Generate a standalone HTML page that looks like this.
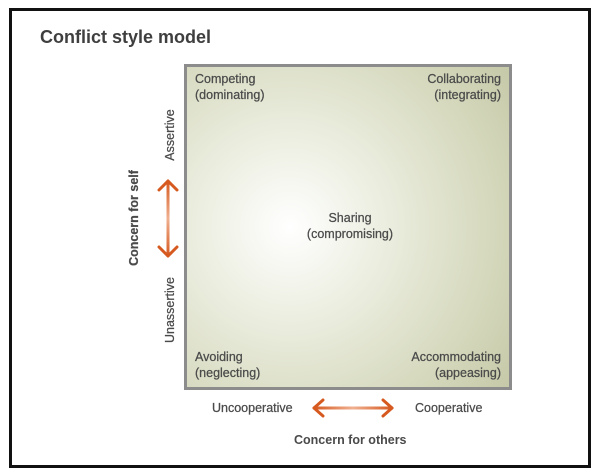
<!DOCTYPE html>
<html><head><style>
body{margin:0;width:600px;height:475px;background:#fff;position:relative;font-family:"Liberation Sans",sans-serif;color:#4a4a4a;overflow:hidden}
.frame{position:absolute;left:9px;top:8px;width:576px;height:454px;border:3px solid #111}
.t{position:absolute;font-size:12.5px;line-height:16px;-webkit-text-stroke:0.25px #4a4a4a}
.b{font-weight:bold;-webkit-text-stroke:0}
.box{position:absolute;left:184px;top:64px;width:322px;height:320px;border:3px solid #8c8c8c;background:radial-gradient(circle at 32% 50%,#ffffff 0%,#eef0e4 30%,#d5d8bc 75%,#c6c9a8 100%)}
.v{position:absolute;transform:translate(-50%,-50%) rotate(-90deg);white-space:nowrap;font-size:12.5px;-webkit-text-stroke:0.25px #4a4a4a}
</style></head><body>
<div class="frame"></div>
<div class="t b" style="left:40px;top:26px;font-size:18px;line-height:22px;color:#3f3f3f">Conflict style model</div>
<div class="box"></div>
<div class="t" style="left:195px;top:71px">Competing<br>(dominating)</div>
<div class="t" style="right:99px;top:71px;text-align:right">Collaborating<br>(integrating)</div>
<div class="t" style="left:290px;top:210px;width:120px;text-align:center">Sharing<br>(compromising)</div>
<div class="t" style="left:195px;top:349px">Avoiding<br>(neglecting)</div>
<div class="t" style="right:99px;top:349px;text-align:right">Accommodating<br>(appeasing)</div>
<div class="v" style="left:170px;top:135px">Assertive</div>
<div class="v" style="left:170px;top:310px">Unassertive</div>
<div class="v b" style="left:134px;top:218px">Concern for self</div>
<div class="t" style="left:212px;top:400px">Uncooperative</div>
<div class="t" style="left:415px;top:400px">Cooperative</div>
<div class="t b" style="left:294px;top:432px">Concern for others</div>
<svg width="600" height="475" style="position:absolute;left:0;top:0">
<defs>
<linearGradient id="gv" gradientUnits="userSpaceOnUse" x1="0" y1="181" x2="0" y2="256"><stop offset="0" stop-color="#d65a20"/><stop offset=".5" stop-color="#f0b090"/><stop offset="1" stop-color="#d65a20"/></linearGradient>
<linearGradient id="gh" gradientUnits="userSpaceOnUse" x1="314" y1="0" x2="392" y2="0"><stop offset="0" stop-color="#d65a20"/><stop offset=".5" stop-color="#f0b090"/><stop offset="1" stop-color="#d65a20"/></linearGradient>
</defs>
<g fill="none" stroke-width="3" stroke-linecap="round" stroke-linejoin="round">
<line x1="168" y1="181" x2="168" y2="256" stroke="url(#gv)"/>
<polyline points="159,190 168,181 177,190" stroke="#d65a20"/>
<polyline points="159,247 168,256 177,247" stroke="#d65a20"/>
<line x1="314" y1="408" x2="392" y2="408" stroke="url(#gh)"/>
<polyline points="323,400 314,408 323,416" stroke="#d65a20"/>
<polyline points="383,400 392,408 383,416" stroke="#d65a20"/>
</g>
</svg>
</body></html>
